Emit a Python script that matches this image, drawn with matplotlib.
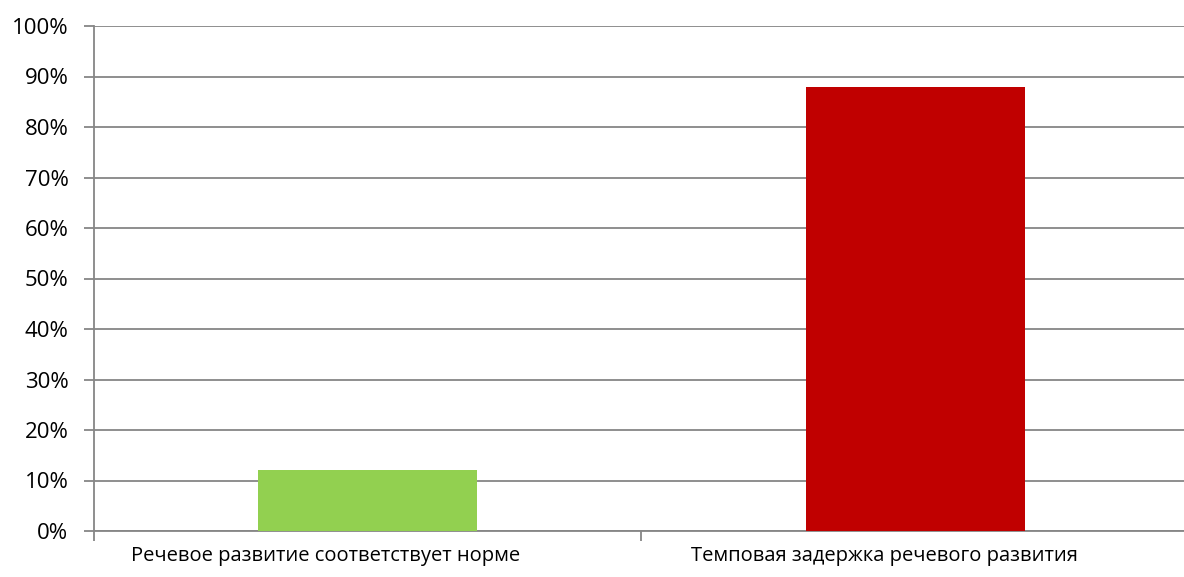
import numpy as np
import matplotlib.pyplot as plt
from matplotlib.transforms import ScaledTranslation

categories = ['Речевое развитие соответствует норме', 'Темповая задержка речевого развития']
values = [12, 88]
colors = ['#92d050', '#c00000']
yticks = np.arange(0, 101, 10)

plt.rcParams['font.family'] = ['Open Sans', 'DejaVu Sans']

W, H = 1184, 577
fig = plt.figure(figsize=(W/100, H/100), dpi=100)
ax = fig.add_axes([93.5/W, (H-531)/H, (W-93.5)/W, 505/H])

x = np.arange(len(categories))
ax.bar(x, values, width=0.40, color=colors, zorder=3)

grid_col = '#868686'
ax.set_ylim(0, 100)
ax.set_xlim(-0.5, 1.49)
ax.set_yticks(yticks)
ax.set_yticklabels(['{}%'.format(v) for v in yticks])
ax.yaxis.grid(True, color=grid_col, linewidth=1.3, zorder=0)

ax.set_xticks(x)
ax.set_xticklabels(categories)
ax.set_xticks([-0.5, 0.5], minor=True)
ax.tick_params(axis='x', which='major', length=0, pad=11, labelsize=14.5)
ax.tick_params(axis='x', which='minor', length=7, width=1.3, color=grid_col)
ax.tick_params(axis='y', length=7, width=1.3, color=grid_col, pad=11, labelsize=16)

# excel puts the category labels a bit left of the bar centres
shifts = [-42, -31]
for lab, dx in zip(ax.get_xticklabels(), shifts):
    lab.set_transform(lab.get_transform() + ScaledTranslation(dx/100, 0, fig.dpi_scale_trans))

for s in ['top', 'right']:
    ax.spines[s].set_visible(False)
for s in ['left', 'bottom']:
    ax.spines[s].set_color(grid_col)
    ax.spines[s].set_linewidth(1.3)
ax.spines['left'].set_zorder(4)

fig.savefig('out.png', dpi=100)
